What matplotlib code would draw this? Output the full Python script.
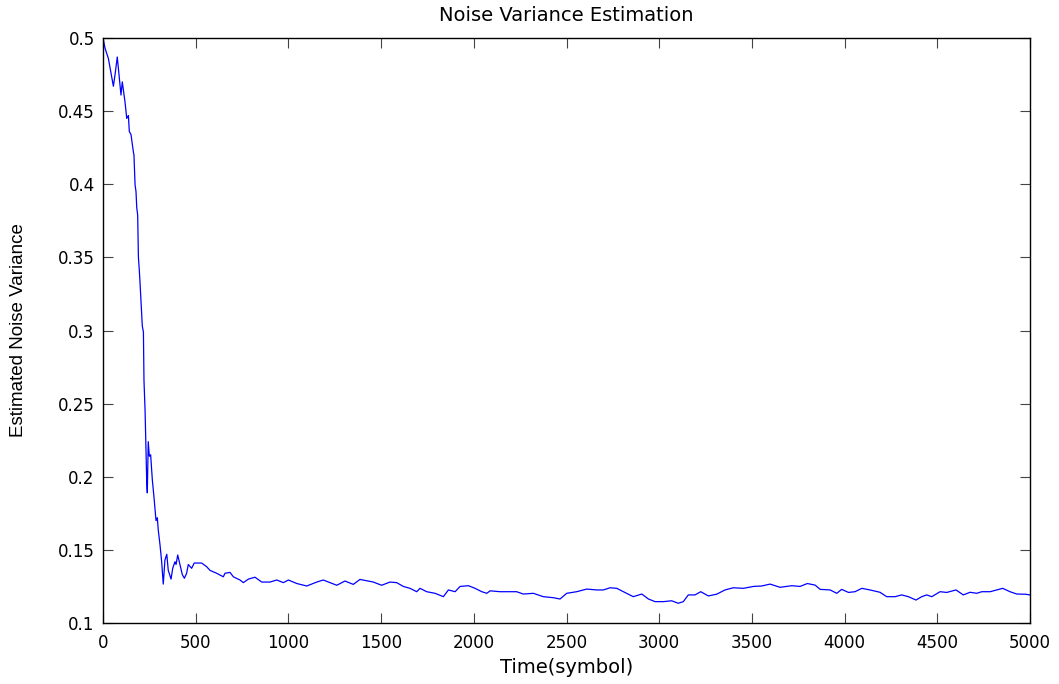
import matplotlib
matplotlib.use("Agg")
import matplotlib.pyplot as plt
from matplotlib.ticker import MultipleLocator, FuncFormatter

# Estimated noise variance over time (symbol index)
time_sym = [
    0, 11, 29, 56, 65, 77, 83, 97, 104, 119, 128, 137, 142, 151, 164, 167,
    173, 178, 182, 187, 191, 196, 200, 212, 218, 221, 227, 236, 239, 244,
    250, 257, 266, 275, 286, 293, 298, 307, 316, 325, 334, 344, 352, 367,
    376, 388, 394, 403, 415, 428, 439, 451, 460, 478, 492, 514, 532, 559,
    577, 613, 649, 658, 685, 703, 739, 757, 784, 820, 856, 901, 937, 973,
    1000, 1045, 1099, 1153, 1188, 1224, 1261, 1305, 1350, 1386, 1422, 1458,
    1503, 1548, 1584, 1620, 1656, 1692, 1710, 1746, 1791, 1836, 1863, 1899,
    1926, 1971, 2007, 2043, 2070, 2088, 2141, 2195, 2231, 2267, 2321, 2375,
    2429, 2465, 2501, 2555, 2609, 2663, 2699, 2735, 2771, 2807, 2825, 2860,
    2906, 2942, 2978, 3023, 3067, 3103, 3130, 3157, 3193, 3224, 3265, 3310,
    3355, 3400, 3454, 3508, 3553, 3598, 3652, 3715, 3760, 3799, 3841, 3868,
    3922, 3958, 3984, 4021, 4056, 4093, 4137, 4191, 4227, 4272, 4308, 4344,
    4385, 4416, 4443, 4470, 4515, 4551, 4601, 4640, 4677, 4713, 4740, 4785,
    4821, 4853, 4892, 4929, 4974, 5000,
]
noise_var = [
    0.500, 0.493, 0.486, 0.467, 0.475, 0.487, 0.479, 0.461, 0.470, 0.456,
    0.445, 0.447, 0.436, 0.434, 0.422, 0.420, 0.3995, 0.395, 0.384, 0.379,
    0.350, 0.341, 0.332, 0.303, 0.299, 0.266, 0.245, 0.1955, 0.189, 0.224,
    0.214, 0.215, 0.198, 0.186, 0.170, 0.172, 0.1636, 0.154, 0.1425, 0.1266,
    0.143, 0.147, 0.136, 0.130, 0.1374, 0.1419, 0.140, 0.1465, 0.140, 0.133,
    0.1306, 0.134, 0.140, 0.1374, 0.141, 0.141, 0.141, 0.1385, 0.136, 0.134,
    0.1316, 0.134, 0.1346, 0.1316, 0.1294, 0.1276, 0.130, 0.1313, 0.128,
    0.128, 0.1294, 0.1276, 0.1294, 0.127, 0.1253, 0.128, 0.1294, 0.1276,
    0.1258, 0.1287, 0.1264, 0.1298, 0.1289, 0.128, 0.1258, 0.128, 0.1276,
    0.125, 0.1237, 0.1214, 0.1237, 0.1214, 0.1203, 0.118, 0.1226, 0.1214,
    0.125, 0.1255, 0.1237, 0.1214, 0.1203, 0.122, 0.1214, 0.1214, 0.1214,
    0.1198, 0.1203, 0.118, 0.1173, 0.1164, 0.1203, 0.1214, 0.1232, 0.1226,
    0.1226, 0.1241, 0.1237, 0.1214, 0.1203, 0.118, 0.1198, 0.1164, 0.1146,
    0.1146, 0.1152, 0.1135, 0.1146, 0.1192, 0.1192, 0.1214, 0.1185, 0.1197,
    0.1226, 0.1241, 0.1237, 0.125, 0.1253, 0.1266, 0.1244, 0.1255, 0.125,
    0.127, 0.1259, 0.123, 0.1226, 0.1203, 0.123, 0.1209, 0.1214, 0.1237,
    0.1226, 0.121, 0.118, 0.118, 0.1192, 0.118, 0.1157, 0.118, 0.1192, 0.118,
    0.1214, 0.1209, 0.1226, 0.1192, 0.121, 0.1203, 0.1214, 0.1214, 0.1226,
    0.1237, 0.1214, 0.1198, 0.1197, 0.1192,
]

title_text = "Noise Variance Estimation"
x_label = "Time(symbol)"
y_label = "Estimated Noise Variance"

plt.rcParams["font.family"] = ["DejaVu Sans"]

fig = plt.figure(figsize=(10.59, 6.84), dpi=100)
ax = fig.add_axes([103 / 1059, 61 / 684, 927 / 1059, 585 / 684])

ax.plot(time_sym, noise_var, color="#0000ff", linewidth=0.9)

ax.set_xlim(0, 5000)
ax.set_ylim(0.1, 0.5)
ax.xaxis.set_major_locator(MultipleLocator(500))
ax.yaxis.set_major_locator(MultipleLocator(0.05))
ax.yaxis.set_major_formatter(FuncFormatter(lambda v, _: f"{round(v, 4):g}"))

ax.tick_params(direction="in", length=7, width=0.8, color="#444444",
               top=True, right=True, labelsize=12, labelcolor="black")
ax.tick_params(axis="x", pad=8)
ax.tick_params(axis="y", pad=6)
for sp in ax.spines.values():
    sp.set_linewidth(1.0)
    sp.set_color("black")

ax.set_title(title_text, fontsize=14, pad=12)
ax.set_xlabel(x_label, fontsize=14, labelpad=4)
ax.set_ylabel(y_label, fontsize=13.5, family=["Liberation Sans"], labelpad=22)

fig.savefig("out.png", dpi=100, facecolor="white")
